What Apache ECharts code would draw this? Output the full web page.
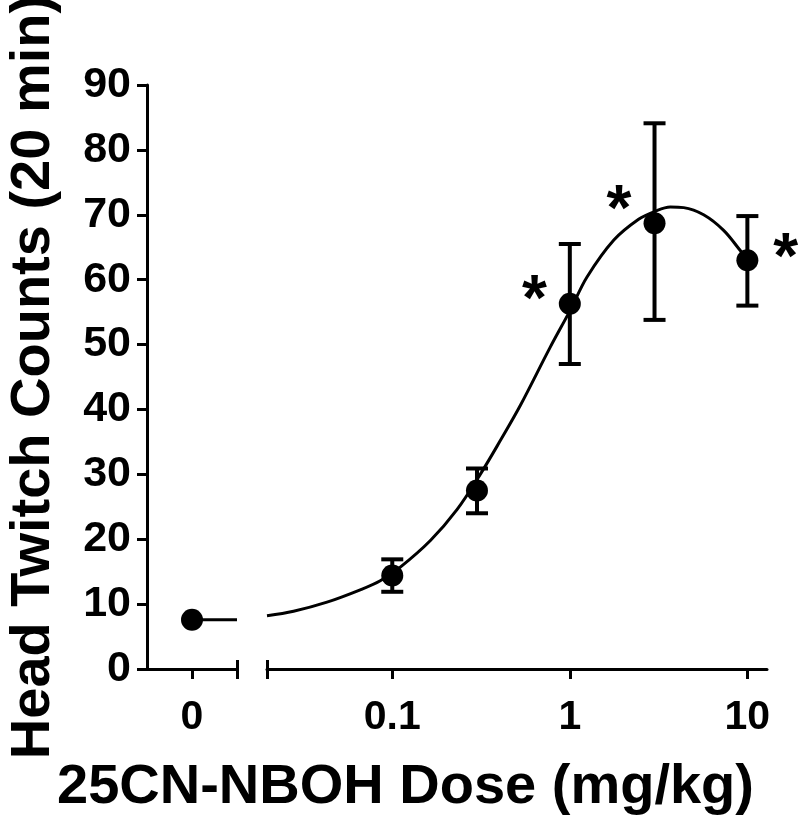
<!DOCTYPE html>
<html>
<head>
<meta charset="utf-8">
<title>Head twitch</title>
<script src="https://cdn.jsdelivr.net/npm/echarts@6/dist/echarts.min.js"></script>
<style>
  html, body { margin: 0; padding: 0; background: #fff; }
  #main { width: 800px; height: 815px; }
</style>
</head>
<body>
<div id="main"></div>
<script type="text/javascript">
// dose groups (mg/kg) and head twitch counts, mean with error bar ends
var doses = [0.1, 0.3, 1, 3, 10];
var means = [14.4, 27.5, 56.3, 68.7, 63.0];
var errLow = [11.9, 24.0, 47.0, 53.8, 56.0];
var errHigh = [16.9, 30.9, 65.5, 84.1, 69.8];
var sig = ['', '', '*', '*', '*'];
var vehicleMean = 7.6;

// fitted curve
var curveDose = [0.0197, 0.0278, 0.0429, 0.066, 0.0856, 0.111, 0.164, 0.232, 0.313, 0.406, 0.526,
                 0.776, 1.006, 1.25, 1.77, 2.44, 3.0, 3.68, 4.38, 5.67, 7.35, 9.12, 9.75];
var curveVal = [8.2, 8.9, 10.3, 12.2, 13.6, 15.7, 19.8, 24.6, 30.0, 35.2, 40.6,
                49.6, 55.3, 60.4, 66.1, 69.3, 70.5, 71.2, 71.1, 70.0, 67.6, 64.5, 63.5];

var xTickLabels = [0.1, 1, 10];

var myChart = echarts.init(document.getElementById('main'));

var FONT = 'Arial, "Liberation Sans", sans-serif';
var lg = function (v) { return Math.log10(v); };
var xMin = lg(0.0197);
var xMax = lg(12.9);
var axisLine = { onZero: false, lineStyle: { color: '#000', width: 3 } };

// where the asterisks sit relative to their points
var starOffset = { 2: [0, -1], 3: [0, -11], 4: [3, 0] };

var meanData = doses.map(function (d, i) {
    return {
        value: [lg(d), means[i]],
        label: {
            position: i === doses.length - 1 ? 'right' : 'left',
            offset: starOffset[i] || [0, 0]
        }
    };
});

var barData = doses.map(function (d, i) {
    return [lg(d), errLow[i], errHigh[i]];
});

var renderErr = function (params, api) {
    var x = api.value(0);
    var lo = api.coord([x, api.value(1)]);
    var hi = api.coord([x, api.value(2)]);
    var w = 11;
    var st = { stroke: '#000', lineWidth: 4 };
    return {
        type: 'group',
        children: [
            { type: 'line', shape: { x1: lo[0], y1: lo[1], x2: hi[0], y2: hi[1] }, style: st },
            { type: 'line', shape: { x1: lo[0] - w, y1: lo[1], x2: lo[0] + w, y2: lo[1] }, style: st },
            { type: 'line', shape: { x1: hi[0] - w, y1: hi[1], x2: hi[0] + w, y2: hi[1] }, style: st }
        ]
    };
};

var option = {
    animation: false,
    backgroundColor: '#fff',
    textStyle: { fontFamily: FONT },
    grid: [
        { left: 147, top: 85, width: 90, height: 584, outerBoundsMode: 'none', containLabel: false },
        { left: 267, top: 85, width: 500, height: 584, outerBoundsMode: 'none', containLabel: false }
    ],
    xAxis: [
        {   // vehicle segment
            type: 'value', gridIndex: 0, min: -1, max: 1, position: 'bottom',
            axisLine: axisLine,
            axisTick: { length: 10, lineStyle: { color: '#000', width: 3 }, customValues: [0, 1] },
            axisLabel: { customValues: [0], formatter: function () { return '0'; },
                         color: '#000', fontSize: 41, fontWeight: 'bold', margin: 28 },
            splitLine: { show: false }
        },
        {   // cap on break
            type: 'value', gridIndex: 0, min: -1, max: 1, position: 'bottom',
            axisLine: { show: false },
            axisTick: { inside: true, length: 9, lineStyle: { color: '#000', width: 3 }, customValues: [1] },
            axisLabel: { show: false },
            splitLine: { show: false }
        },
        {   // dose segment (log10)
            type: 'value', gridIndex: 1, min: xMin, max: xMax, position: 'bottom',
            axisLine: axisLine,
            axisTick: { length: 10, lineStyle: { color: '#000', width: 3 },
                        customValues: [xMin].concat(xTickLabels.map(lg)) },
            axisLabel: { customValues: xTickLabels.map(lg),
                         formatter: function (v) { return String(+Math.pow(10, v).toPrecision(3)); },
                         color: '#000', fontSize: 41, fontWeight: 'bold', margin: 28 },
            splitLine: { show: false }
        },
        {
            type: 'value', gridIndex: 1, min: xMin, max: xMax, position: 'bottom',
            axisLine: { show: false },
            axisTick: { inside: true, length: 9, lineStyle: { color: '#000', width: 3 }, customValues: [xMin] },
            axisLabel: { show: false },
            splitLine: { show: false }
        }
    ],
    yAxis: [
        {
            type: 'value', gridIndex: 0, min: 0, max: 90, interval: 10,
            name: 'Head Twitch Counts (20 min)', nameLocation: 'middle', nameRotate: 90, nameGap: 85,
            nameTextStyle: { color: '#000', fontSize: 56, fontWeight: 'bold', fontFamily: FONT },
            axisLine: { show: true, onZero: false, lineStyle: { color: '#000', width: 3 } },
            axisTick: { show: true, length: 10, lineStyle: { color: '#000', width: 3 } },
            axisLabel: { color: '#000', fontSize: 43, fontWeight: 'bold', margin: 16 },
            splitLine: { show: false }
        },
        {
            type: 'value', gridIndex: 1, min: 0, max: 90, interval: 10,
            axisLine: { show: false, onZero: false }, axisTick: { show: false }, axisLabel: { show: false },
            splitLine: { show: false }
        }
    ],
    graphic: [{
        type: 'text', left: 57, top: 760,
        style: { text: '25CN-NBOH Dose (mg/kg)', fill: '#000', font: 'bold 56px ' + FONT }
    }],
    series: [
        {
            type: 'line', xAxisIndex: 0, yAxisIndex: 0,
            data: [[0, vehicleMean], [1, vehicleMean]],
            showSymbol: false, lineStyle: { color: '#000', width: 3 }
        },
        {
            type: 'scatter', xAxisIndex: 0, yAxisIndex: 0,
            data: [[0, vehicleMean]], symbolSize: 22, itemStyle: { color: '#000', opacity: 1 }
        },
        {
            type: 'line', xAxisIndex: 2, yAxisIndex: 1, smooth: 0.35,
            data: curveDose.map(function (d, i) { return [lg(d), curveVal[i]]; }),
            showSymbol: false, lineStyle: { color: '#000', width: 3 }
        },
        {
            type: 'custom', xAxisIndex: 2, yAxisIndex: 1,
            renderItem: renderErr, data: barData, z: 3
        },
        {
            type: 'scatter', xAxisIndex: 2, yAxisIndex: 1, z: 4,
            data: meanData, symbolSize: 22, itemStyle: { color: '#000', opacity: 1 },
            label: {
                show: true, distance: 12,
                formatter: function (p) { return sig[p.dataIndex]; },
                color: '#000', fontSize: 64, fontWeight: 'bold', fontFamily: FONT
            }
        }
    ]
};

myChart.setOption(option);
</script>
</body>
</html>
